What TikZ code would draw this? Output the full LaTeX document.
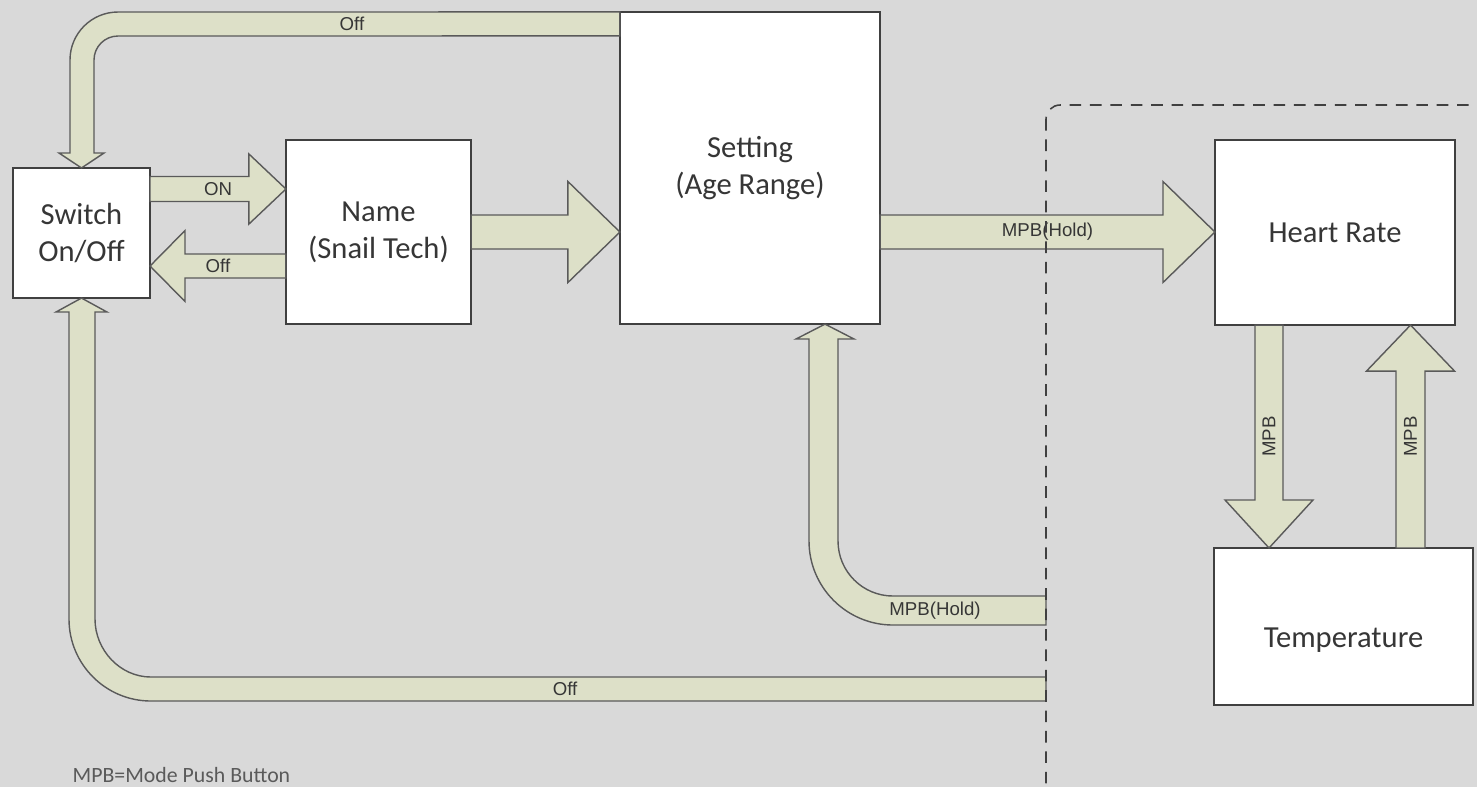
\documentclass[tikz,border=0pt]{standalone}
\usepackage{fontspec}
\setmainfont{Carlito}
\newfontfamily\lblfont{Liberation Sans}
\usepackage{xcolor}
\definecolor{paper}{HTML}{D9D9D9}
\definecolor{olive}{HTML}{DDE0C8}
\definecolor{edge}{HTML}{5A5A5A}
\definecolor{frame}{HTML}{404040}
\definecolor{ink}{HTML}{363636}
\usetikzlibrary{calc}
\tikzset{
  blk/.style    ={draw=frame,fill=white,line width=0.5pt,inner sep=0pt,
                  outer sep=0pt,align=center,text=ink,
                  font=\fontsize{8.7}{10.5}\selectfont},
  flow/.style   ={draw=edge,fill=olive,line width=0.4pt,line join=miter},
  lbl/.style    ={font=\lblfont\fontsize{5.3}{6}\selectfont,text=ink,inner sep=0pt},
  grpline/.style={draw=frame,line width=0.45pt,dash pattern=on 3.3pt off 2.5pt,
                  rounded corners=4pt},
}
% straight block arrows: tail, tip, shaft half, head half, head length (sign = direction), label
\newcommand{\hblk}[6]{%
  \draw[flow] ($#1+(0,-#3)$) -- ($#2+({-(#5)},-#3)$) -- ($#2+({-(#5)},-#4)$) -- #2
    -- ($#2+({-(#5)},#4)$) -- ($#2+({-(#5)},#3)$) -- ($#1+(0,#3)$) -- cycle;
  \node[lbl] at ($#1!0.5!#2$) {#6};}
\newcommand{\vblk}[6]{%
  \draw[flow] ($#1+(-#3,0)$) -- ($#2+(-#3,{-(#5)})$) -- ($#2+(-#4,{-(#5)})$) -- #2
    -- ($#2+(#4,{-(#5)})$) -- ($#2+(#3,{-(#5)})$) -- ($#1+(#3,0)$) -- cycle;
  \node[lbl,rotate=90] at ($#1!0.5!#2$) {#6};}

\begin{document}
\begin{tikzpicture}[x=0.01cm,y=-0.01cm]
\useasboundingbox (0,0) rectangle (1477,787);
\clip (0,0) rectangle (1477,787);
\fill[paper] (0,0) rectangle (1477,787);
%======================= BOXES ==================================
\node[blk,minimum width=1.37cm,minimum height=1.30cm] (sw) at (81.5,233)  {Switch\\On/Off};
\node[blk,minimum width=1.85cm,minimum height=1.84cm] (nm) at (378.5,232) {Name\\(Snail Tech)};
\node[blk,minimum width=2.60cm,minimum height=3.12cm] (st) at (750,168)   {Setting\\(Age Range)};
\node[blk,minimum width=2.40cm,minimum height=1.85cm] (hr) at (1335,232.5) {Heart Rate};
\node[blk,minimum width=2.59cm,minimum height=1.57cm] (tp) at (1343.5,626.5) {};
\node[text=ink,inner sep=0pt,font=\fontsize{8.7}{10.5}\selectfont] (tptext) at ($(tp.center)+(0,14)$) {Temperature};
\coordinate (grpnw) at (1046,105);
\coordinate (r1) at (0,189);
\coordinate (r2) at (0,266);
\coordinate (r3) at (0,232);
\coordinate (c1) at (1269,0);
\coordinate (c2) at (1410.5,0);
%======================= STRAIGHT ARROWS ========================
\hblk{(sw.east |- r1)}{(nm.west |- r1)}{12.5}{35}{37}{ON}
\hblk{(nm.west |- r2)}{(sw.east |- r2)}{12}{35.5}{-35}{Off}
\hblk{(nm.east |- r3)}{(st.west |- r3)}{17}{50.5}{52}{}
\hblk{(st.east |- r3)}{(hr.west |- r3)}{17}{50.5}{52}{MPB(Hold)}
\vblk{(hr.south -| c1)}{(tp.north -| c1)}{14}{44}{48}{MPB}
\vblk{(tp.north -| c2)}{(hr.south -| c2)}{14.5}{44}{-46}{MPB}
%======================= BENT ARROWS ============================
\draw[flow] (st.north west) -- (118,12) .. controls (91.5,12) and (70,33.5) .. (70,60)
  -- (70,153) -- (59,153) -- (sw.north) -- (104,153) -- (94,153) -- (94,60)
  .. controls (94,46.7) and (104.7,36) .. (118,36) -- ($(st.north west)+(0,24)$) -- cycle;
\node[lbl] at (352,24) {Off};
\draw[flow] ($(grpnw)+(0,572)$) -- (151,677) .. controls (120,677) and (95,650) .. (95,619)
  -- (95,312) -- (107,312) -- (sw.south) -- (56,312) -- (69,312) -- (69,619)
  .. controls (69,664.3) and (105.7,701) .. (151,701) -- ($(grpnw)+(0,596)$) -- cycle;
\node[lbl] at (565,689) {Off};
\draw[flow] ($(grpnw)+(0,491)$) -- (893,596) .. controls (862.6,596) and (838,571.4) .. (838,541)
  -- (838,339) -- (854,339) -- ($(st.south)+(75,0)$) -- (796,339) -- (809,339) -- (809,541)
  .. controls (809,587.4) and (846.6,625) .. (893,625) -- ($(grpnw)+(0,520)$) -- cycle;
\node[lbl] at (935,611) {MPB(Hold)};
%======================= GROUP FRAME + NOTE =====================
\draw[grpline] (grpnw) rectangle (1530,797);
\node[anchor=west,inner sep=0pt,text=edge,font=\fontsize{6.2}{7}\selectfont] (note) at (72,775)
 {MPB=Mode Push Button};
\end{tikzpicture}
\end{document}
